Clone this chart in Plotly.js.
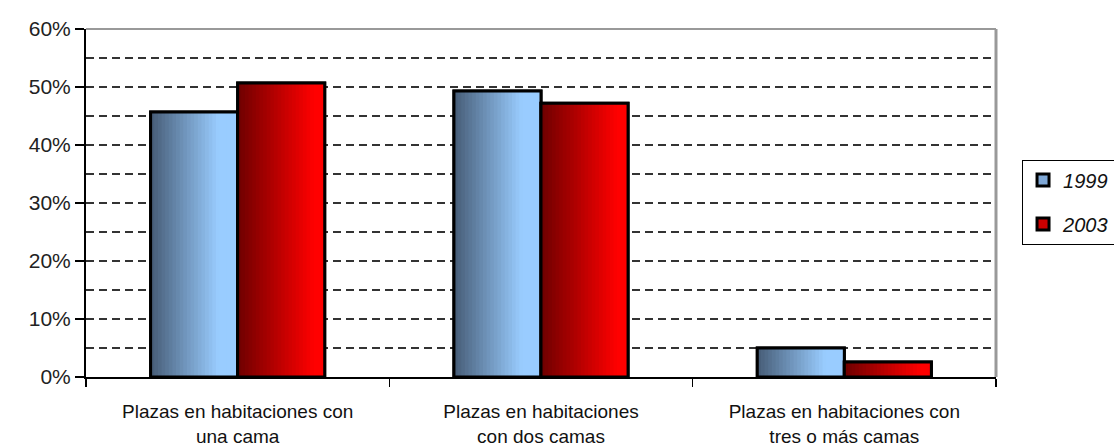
<!DOCTYPE html>
<html>
<head>
<meta charset="utf-8">
<script src="https://cdn.plot.ly/plotly-3.0.1.min.js"></script>
<style>html,body{margin:0;padding:0;background:#fff}#chart{width:1114px;height:448px}</style>
</head>
<body>
<div id="chart"></div>
<script>
// ---- data ----
const categories = [
  "Plazas en habitaciones con<br>una cama",
  "Plazas en habitaciones<br>con dos camas",
  "Plazas en habitaciones con<br>tres o más camas"
];
const seriesNames = ["1999", "2003"];
const values1999 = [45.7, 49.3, 5.0];
const values2003 = [50.7, 47.2, 2.6];
const yTickVals = [0, 10, 20, 30, 40, 50, 60];
const yTickText = ["0%", "10%", "20%", "30%", "40%", "50%", "60%"];

// ---- style ----
const BW = 0.287;         // width of one bar (category units)
const NSTRIP = 24;
function lerp(a, b, t) { return Math.round(a + (b - a) * t); }
function gradColor(c0, c1, stop, t) {
  const u = Math.min(1, t / stop);
  return `rgb(${lerp(c0[0], c1[0], u)},${lerp(c0[1], c1[1], u)},${lerp(c0[2], c1[2], u)})`;
}
const grad1999 = { c0: [70, 92, 118], c1: [153, 204, 255], stop: 0.78, mid: "#7FA8D6" };
const grad2003 = { c0: [110, 0, 0], c1: [255, 0, 0], stop: 0.88, mid: "#CC0000" };

const traces = [];
function addSeries(name, vals, g, baseOffset, group) {
  traces.push({
    type: "bar", x: categories, y: vals, name: name, legendgroup: group,
    width: BW, offset: baseOffset,
    marker: { color: g.mid, line: { color: "#000", width: 3 } },
    hoverinfo: "y+name"
  });
  for (let i = 0; i < NSTRIP; i++) {
    const t = (i + 0.5) / NSTRIP;
    traces.push({
      type: "bar", x: categories, y: vals, showlegend: false, legendgroup: group,
      width: BW * (1 - i / NSTRIP), offset: baseOffset + BW * i / NSTRIP,
      marker: { color: gradColor(g.c0, g.c1, g.stop, t), line: { width: 0 } },
      hoverinfo: "skip"
    });
  }
  traces.push({
    type: "bar", x: categories, y: vals, showlegend: false, legendgroup: group,
    width: BW, offset: baseOffset,
    marker: { color: "rgba(0,0,0,0)", line: { color: "#000", width: 3 } },
    hoverinfo: "skip"
  });
}
addSeries(seriesNames[0], values1999, grad1999, -BW, "a");
addSeries(seriesNames[1], values2003, grad2003, 0, "b");

const fontFam = "Arial, 'Liberation Sans', Helvetica, sans-serif";

const layout = {
  width: 1114, height: 448,
  margin: { l: 86, r: 118, t: 29, b: 71, autoexpand: false },
  paper_bgcolor: "#fff", plot_bgcolor: "#fff",
  barmode: "overlay",
  font: { family: fontFam, size: 19, color: "#222" },
  showlegend: true,
  legend: {
    x: 1.0286, xanchor: "left", y: 0.625, yanchor: "top",
    bordercolor: "#000", borderwidth: 1, bgcolor: "#fff",
    font: { family: fontFam, size: 20, color: "#111", style: "italic" },
    tracegroupgap: 15, itemwidth: 30
  },
  xaxis: {
    type: "category", range: [-0.5, 2.5],
    showline: true, linecolor: "#000", linewidth: 2,
    ticks: "outside", tickson: "boundaries", ticklen: 8, tickwidth: 1.5, tickcolor: "#000",
    tickfont: { family: fontFam, size: 19, color: "#111" },
    ticklabelstandoff: 16,
    showgrid: false, zeroline: false, fixedrange: true, automargin: false
  },
  yaxis: {
    range: [0, 60], tickmode: "array", tickvals: yTickVals, ticktext: yTickText,
    showline: true, linecolor: "#000", linewidth: 2,
    ticks: "outside", ticklen: 9, tickwidth: 1.5, tickcolor: "#000",
    tickfont: { family: fontFam, size: 21, color: "#222" },
    showgrid: true, gridcolor: "#333", gridwidth: 1.3, griddash: "8px,5px",
    minor: { dtick: 5, tick0: 0, showgrid: true, gridcolor: "#333", gridwidth: 1.3, griddash: "8px,5px", ticks: "" },
    zeroline: false, fixedrange: true, automargin: false
  },
  shapes: [
    { type: "line", xref: "paper", yref: "paper", x0: 0, x1: 1, y0: 1, y1: 1, line: { color: "#999", width: 2 }, layer: "above" },
    { type: "line", xref: "paper", yref: "paper", x0: 1, x1: 1, y0: 0, y1: 1, line: { color: "#999", width: 3 }, layer: "above" }
  ]
};

Plotly.newPlot("chart", traces, layout, { displayModeBar: false, staticPlot: true });
</script>
</body>
</html>
